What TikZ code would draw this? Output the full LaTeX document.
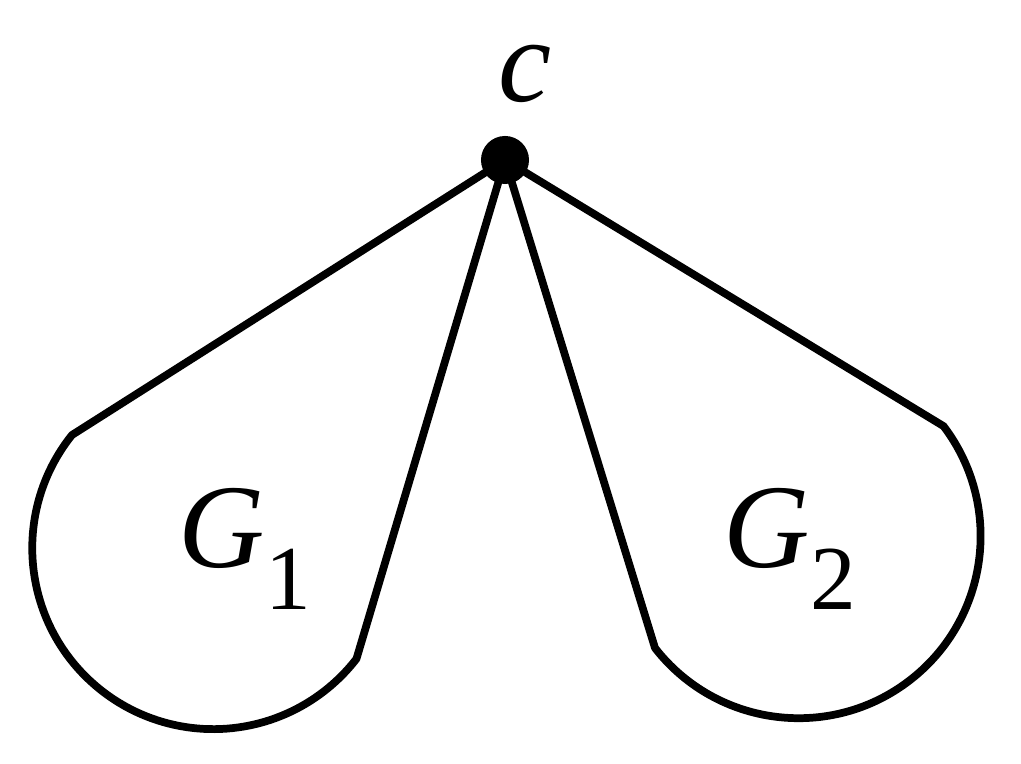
\documentclass[tikz,border=0pt]{standalone}
\usepackage{fontspec}
\setmainfont{Liberation Serif}
\usepackage{unicode-math}
\setmathfont{Latin Modern Math}
\begin{document}
\begin{tikzpicture}[x=0.01cm,y=0.01cm,line width=2.2pt,
  lbl/.style={font=\fontsize{34}{40}\selectfont\itshape}]
\useasboundingbox (0,0) rectangle (1021,764);
\node[circle,fill=black,inner sep=0pt,minimum size=0.48cm] (c) at (505,604) {};
\node[lbl] (cl) at (525,690) {c};
\coordinate (a1) at (72,329);
\coordinate (b1) at (358,104);
\coordinate (a2) at (655,116);
\coordinate (b2) at (945,339);
\draw[line join=round] (c.center) -- (a1) arc[start angle=141.3,end angle=322.3,radius=181] -- (c.center);
\draw[line join=round] (c.center) -- (a2) arc[start angle=217.9,end angle=397.2,radius=182] -- (c.center);
\node[lbl] (g1) at (245,215) {G\raisebox{-0.35em}{\itshape\fontsize{26}{30}\selectfont\upshape 1}};
\node[lbl] (g2) at (790,215) {G\raisebox{-0.35em}{\fontsize{26}{30}\selectfont\upshape 2}};
\end{tikzpicture}
\end{document}
